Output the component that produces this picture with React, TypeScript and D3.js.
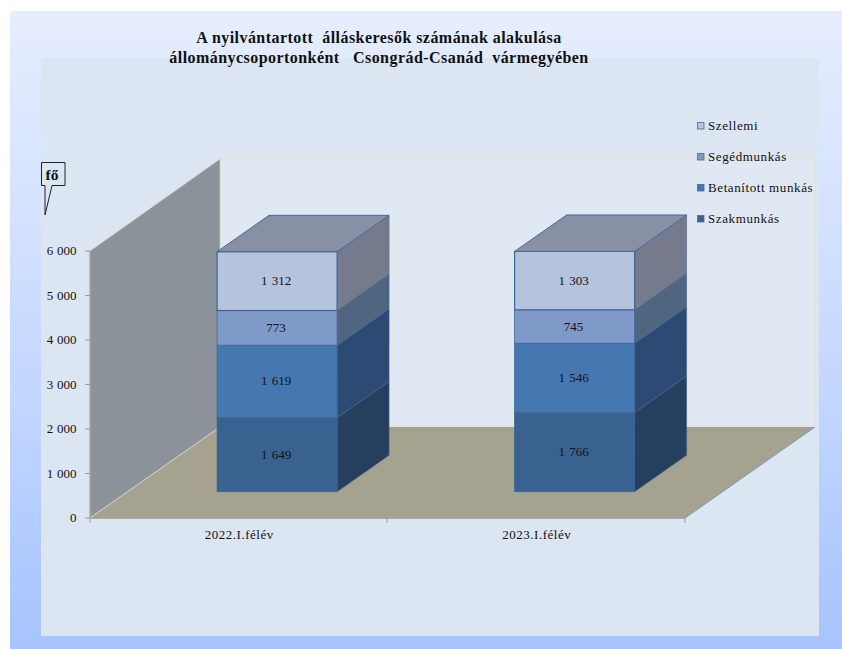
import React from "react";
import * as d3 from "d3";

const categories = ["2022.I.félév", "2023.I.félév"];
const seriesNames = ["Szakmunkás", "Betanított munkás", "Segédmunkás", "Szellemi"];
const szakmunkas = [1649, 1766];
const betanitott = [1619, 1546];
const segedmunkas = [773, 745];
const szellemi = [1312, 1303];
const seriesValues = [szakmunkas, betanitott, segedmunkas, szellemi];
const yTicks = [0, 1000, 2000, 3000, 4000, 5000, 6000];
const titleLines = ["A nyilvántartott  álláskeresők számának alakulása", "állománycsoportonként   Csongrád-Csanád  vármegyében"];

const frontColors = ["#3a6290", "#4577b1", "#7f9ac8", "#b6c3dd"];
const sideColors = ["#263f5f", "#2c4a73", "#506680", "#757b8c"];
const legendColors = ["#3a6290", "#4577b1", "#7f9ac8", "#b6c3dd"];
const font = "'Liberation Serif', 'Times New Roman', serif";

const fmt = (v: number) => d3.format(",")(v).replace(/,/g, " ");

export default function App() {
  const y = d3.scaleLinear().domain([0, 6000]).range([518, 251]);
  const yBar = d3.scaleLinear().domain([0, 5353]).range([491.7, 251.7]);
  const x = d3.scaleBand<string>().domain(categories).range([90, 685]);
  const DX = 130, DY = -91;
  const depth = (t: number) => [t * DX, t * DY];
  const d0 = 0.295, d1 = 0.695;
  const barW = 120;
  const h0 = y(0) - y(6000);
  const stacks = d3.stack<number[], number>().keys([0, 1, 2, 3]).value((d, k) => d[k])(
    categories.map((_, i) => seriesValues.map((s) => s[i]))
  );
  const poly = (pts: number[][]) => d3.line()(pts as [number, number][]) + "Z";
  const [fx] = depth(d0);
  const [bx, by] = depth(d1);
  const [fx2, fy2] = depth(d0);
  const [wx, wy] = depth(1);
  const wallTop = y(6000) + wy - 1;

  return (
    <svg width={842} height={649} style={{ position: "absolute", left: 0, top: 0, background: "#fff" }} fontFamily={font}>
      <defs>
        <linearGradient id="bg" x1="0" y1="0" x2="0" y2="1">
          <stop offset="0" stopColor="#e6eefe" />
          <stop offset="0.5" stopColor="#c9daff" />
          <stop offset="1" stopColor="#a5c3fd" />
        </linearGradient>
      </defs>
      <rect x={10} y={11} width={840} height={650} rx={3} fill="url(#bg)" />
      <rect x={41} y={58} width={778} height={578} fill="#dce6f2" />

      {/* back wall */}
      <rect x={90 + wx} y={wallTop} width={595} height={h0 + 1} fill="#e0e8f4" stroke="#e3dfc9" strokeWidth={1} />
      {/* left wall */}
      <path d={poly([[90, y(0)], [90, y(6000)], [90 + wx, wallTop], [90 + wx, y(0) + wy]])} fill="#8b9299" stroke="#d6d3bd" strokeWidth={0.7} />
      {/* floor */}
      <path d={poly([[90, y(0)], [685, y(0)], [685 + wx, y(0) + wy], [90 + wx, y(0) + wy]])} fill="#a5a390" />
      <line x1={685} y1={y(0)} x2={685 + wx} y2={y(0) + wy} stroke="#6f9bc8" strokeWidth={1} />
      <line x1={90} y1={y(0)} x2={90 + wx} y2={y(0) + wy} stroke="#d9d8c8" strokeWidth={0.8} />

      {/* axes */}
      <line x1={90} x2={90} y1={y(6000)} y2={y(0)} stroke="#999" />
      <line x1={90} x2={685} y1={y(0) + 0.5} y2={y(0) + 0.5} stroke="#a6a9ae" />
      {yTicks.map((t) => (
        <g key={t}>
          <line x1={85} x2={90} y1={y(t)} y2={y(t)} stroke="#999" />
          <text x={76.5} y={y(t) + 4} textAnchor="end" fontSize={13} wordSpacing={0.5} fill="#111">{fmt(t)}</text>
        </g>
      ))}
      {[90, 387, 685].map((p) => (
        <line key={p} x1={p} x2={p} y1={y(0)} y2={y(0) + 5} stroke="#999" />
      ))}
      {categories.map((c) => (
        <text key={c} x={(x(c) as number) + x.bandwidth() / 2 + 0.5} y={539} textAnchor="middle" fontSize={13} letterSpacing={0.5} fill="#111">{c}</text>
      ))}

      {/* bars */}
      {categories.map((c, i) => {
        const left = (x(c) as number) + (x.bandwidth() - barW) / 2 + fx;
        const right = left + barW;
        const dx = bx - fx2, dy = by - fy2;
        const top = yBar(stacks[3][i][1]);
        return (
          <g key={c}>
            {stacks.map((s, k) => {
              const yb = yBar(s[i][0]);
              const yt = yBar(s[i][1]);
              return (
                <g key={k}>
                  <path d={poly([[right, yb], [right + dx, yb + dy], [right + dx, yt + dy], [right, yt]])} fill={sideColors[k]} stroke="#45648f" strokeWidth={0.5} />
                  <rect x={left} y={yt} width={barW} height={yb - yt} fill={frontColors[k]} stroke="#3f6594" strokeWidth={k === 3 ? 1.2 : 0.8} />
                  <text x={left + barW / 2 - 1} y={(yt + yb) / 2 + 4} textAnchor="middle" fontSize={13} wordSpacing={1} fill="#111">{fmt(seriesValues[k][i])}</text>
                </g>
              );
            })}
            <path d={poly([[left, top], [right, top], [right + dx, top + dy], [left + dx, top + dy]])} fill="#8790a4" stroke="#46689a" strokeWidth={1} />
          </g>
        );
      })}

      {/* title */}
      {titleLines.map((t, i) => (
        <text key={i} x={379} y={43 + i * 19.5} textAnchor="middle" fontSize={16} letterSpacing={0.45} fontWeight="bold" fill="#111" style={{ whiteSpace: "pre" }}>{t}</text>
      ))}

      {/* callout */}
      <path d="M41.5,162.5H65V185.5H52L45,215L45,185.5H41.5Z" fill="#dce6f2" stroke="#222" strokeWidth={1} />
      <text x={52} y={180} textAnchor="middle" fontSize={15.5} fontWeight="bold" fill="#111">fő</text>

      {/* legend */}
      {seriesNames.map((n, k) => {
        const ly = 219 - k * 31;
        return (
          <g key={n}>
            <rect x={697.5} y={ly - 3.5} width={6.5} height={6.5} fill={legendColors[k]} stroke="#4a6c9c" strokeWidth={0.8} />
            <text x={708} y={ly + 4} fontSize={13} letterSpacing={0.6} fill="#111">{n}</text>
          </g>
        );
      })}
    </svg>
  );
}
